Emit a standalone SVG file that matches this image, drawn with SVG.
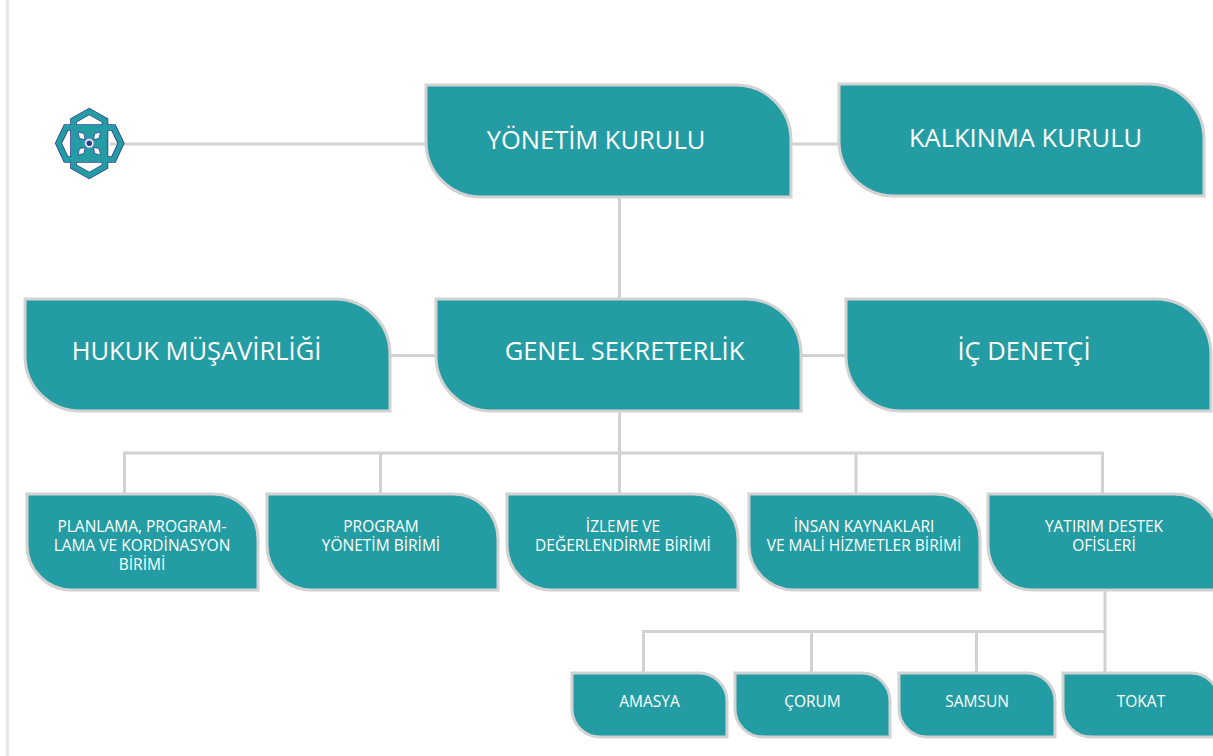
<svg xmlns="http://www.w3.org/2000/svg" width="1213" height="756" viewBox="0 0 1213 756">
<style>
.bg{fill:#fff}
.band{fill:#e6e6e6}
.c{fill:none;stroke:#d2d2d2;stroke-width:3}
.n{fill:#239da3;stroke:#d2d2d2;stroke-width:3}
text{font-family:"Open Sans","Noto Sans","Liberation Sans",sans-serif;fill:#fff;text-anchor:middle;font-weight:400}
.l{font-size:25.500px}
.m{font-size:15.500px}
.s{font-size:15.500px}
.lo1{fill:none;stroke:#2e3f96;stroke-width:6.600;stroke-linejoin:miter}
.lo2{fill:none;stroke:#239da3;stroke-width:5;stroke-linejoin:miter}
.w{fill:#fff;stroke:#2e3f96;stroke-width:.8}
</style>
<defs>
<g id="logoShape">
<path d="M89.300 111.500L105 120.500V127.500H113.500L121 143.300L113.500 159.500H105V166.500L89.300 175.500L73.500 166.500V159.500H66L58.500 143.300L66 127.500H73.500V120.500Z"/>
<path d="M73.500 127.500H105V159.500H73.500Z"/>
</g>
</defs>
<rect class="bg" width="1213" height="756"/>
<rect class="band" x="6" y="0" width="3" height="756"/>
<g id="connectors">
<path class="c" d="M110 144H426M791 144H839M619.500 197V299M391 355.500H436M801 355.500H846M619.500 411V493M124.500 493V453H1102.500V493M380.500 453V493M856 453V493M1105 591V672M643.500 672V631.500H1105M811.500 631.500V672M976.500 631.500V672"/>
</g>
<g id="logo">
<use href="#logoShape" class="lo1"/>
<rect x="73.500" y="127.500" width="31.500" height="32" fill="#239da3"/>
<use href="#logoShape" class="lo2"/>
<path class="w" d="M78 132L84 133.500L85 139.500L79.500 138.500Z"/>
<path class="w" d="M100.600 132L94.600 133.500L93.600 139.500L99 138.500Z"/>
<path class="w" d="M78 155L84 153.500L85 147.500L79.500 148.500Z"/>
<path class="w" d="M100.600 155L94.600 153.500L93.600 147.500L99 148.500Z"/>
<circle cx="89.300" cy="143.300" r="4.500" fill="#fff" stroke="#9aa3d0" stroke-width="1"/>
<circle cx="89.300" cy="143.300" r="2.800" fill="#2e3f96"/>
</g>
<g id="yonetim"><path class="n" d="M426 85H736A55 55 0 0 1 791 140V197H481A55 55 0 0 1 426 142Z"/><text class="l" x="596" y="149">YÖNETİM KURULU</text></g>
<g id="kalkinma"><path class="n" d="M839 84H1149A55 55 0 0 1 1204 139V196H894A55 55 0 0 1 839 141Z"/><text class="l" x="1025.500" y="147">KALKINMA KURULU</text></g>
<g id="hukuk"><path class="n" d="M25 299H335A55 55 0 0 1 390 354V411H80A55 55 0 0 1 25 356Z"/><text class="l" x="196.500" y="360">HUKUK MÜŞAVİRLİĞİ</text></g>
<g id="genel"><path class="n" d="M436 299H746A55 55 0 0 1 801 354V411H491A55 55 0 0 1 436 356Z"/><text class="l" x="624.500" y="360">GENEL SEKRETERLİK</text></g>
<g id="ic"><path class="n" d="M846 299H1156A55 55 0 0 1 1211 354V411H901A55 55 0 0 1 846 356Z"/><text class="l" x="1024" y="360">İÇ DENETÇİ</text></g>
<g id="planlama"><path class="n" d="M27 494H213A45 45 0 0 1 258 539V590H72A45 45 0 0 1 27 545Z"/><text class="m" y="532"><tspan x="142">PLANLAMA, PROGRAM-</tspan><tspan x="142" dy="19">LAMA VE KORDİNASYON</tspan><tspan x="142" dy="19">BİRİMİ</tspan></text></g>
<g id="program"><path class="n" d="M267 494H453A45 45 0 0 1 498 539V590H312A45 45 0 0 1 267 545Z"/><text class="m" y="532"><tspan x="381">PROGRAM</tspan><tspan x="381" dy="19">YÖNETİM BİRİMİ</tspan></text></g>
<g id="izleme"><path class="n" d="M507 494H693A45 45 0 0 1 738 539V590H552A45 45 0 0 1 507 545Z"/><text class="m" y="532"><tspan x="623">İZLEME VE</tspan><tspan x="623" dy="19">DEĞERLENDİRME BİRİMİ</tspan></text></g>
<g id="insan"><path class="n" d="M749 494H935A45 45 0 0 1 980 539V590H794A45 45 0 0 1 749 545Z"/><text class="m" y="532"><tspan x="864">İNSAN KAYNAKLARI</tspan><tspan x="864" dy="19">VE MALİ HİZMETLER BİRİMİ</tspan></text></g>
<g id="yatirim"><path class="n" d="M988 494H1174A45 45 0 0 1 1219 539V590H1033A45 45 0 0 1 988 545Z"/><text class="m" y="532"><tspan x="1104">YATIRIM DESTEK</tspan><tspan x="1104" dy="19">OFİSLERİ</tspan></text></g>
<g id="amasya"><path class="n" d="M572 673H699A28 28 0 0 1 727 701V737H600A28 28 0 0 1 572 709Z"/><text class="s" x="649.500" y="707">AMASYA</text></g>
<g id="corum"><path class="n" d="M735 673H862A28 28 0 0 1 890 701V737H763A28 28 0 0 1 735 709Z"/><text class="s" x="812.500" y="707">ÇORUM</text></g>
<g id="samsun"><path class="n" d="M899 673H1027A28 28 0 0 1 1055 701V737H927A28 28 0 0 1 899 709Z"/><text class="s" x="977" y="707">SAMSUN</text></g>
<g id="tokat"><path class="n" d="M1063 673H1191A28 28 0 0 1 1219 701V737H1091A28 28 0 0 1 1063 709Z"/><text class="s" x="1141" y="707">TOKAT</text></g>
</svg>
